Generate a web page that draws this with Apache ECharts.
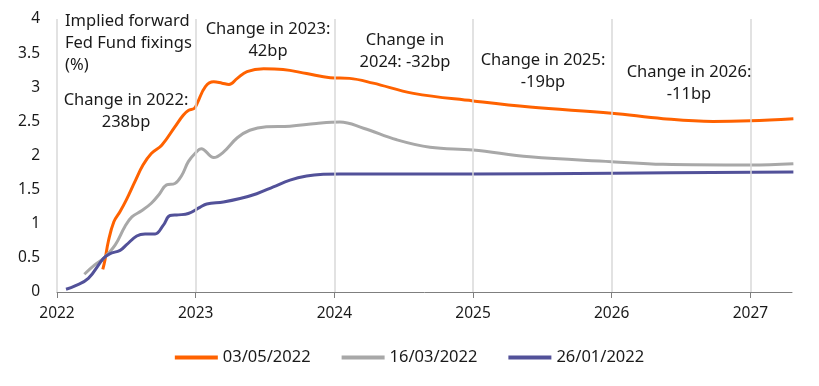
<!DOCTYPE html>
<html>
<head>
<meta charset="utf-8">
<script src="https://cdn.jsdelivr.net/npm/echarts@6/dist/echarts.min.js"></script>
<style>
html,body{margin:0;padding:0;background:#fff;}
#chart{width:819px;height:386px;}
</style>
</head>
<body>
<div id="chart"></div>
<script>
// Year ticks on x-axis
var yearTicks = [2022, 2023, 2024, 2025, 2026, 2027];
var yTicks = [0, 0.5, 1, 1.5, 2, 2.5, 3, 3.5, 4];
var seriesNames = ['03/05/2022', '16/03/2022', '26/01/2022'];

// 03/05/2022 (orange) : [year, %]
var may2022 = [
  [2022.33, 0.33], [2022.346, 0.47], [2022.37, 0.74], [2022.41, 1.03], [2022.455, 1.18],
  [2022.50, 1.35], [2022.56, 1.61], [2022.62, 1.86], [2022.68, 2.03], [2022.755, 2.15],
  [2022.85, 2.42], [2022.91, 2.59], [2022.947, 2.66], [2022.99, 2.69], [2023.01, 2.76],
  [2023.07, 3.01], [2023.13, 3.08], [2023.19, 3.06], [2023.24, 3.04], [2023.30, 3.13],
  [2023.37, 3.23], [2023.49, 3.27], [2023.63, 3.26], [2023.80, 3.20], [2023.97, 3.14],
  [2024.11, 3.13], [2024.28, 3.06], [2024.57, 2.91], [2025.00, 2.80], [2025.41, 2.71],
  [2026.00, 2.62], [2026.37, 2.54], [2026.73, 2.50], [2027.00, 2.51], [2027.31, 2.54]
];

// 16/03/2022 (grey)
var mar2022 = [
  [2022.197, 0.26], [2022.274, 0.40], [2022.334, 0.49], [2022.42, 0.69], [2022.49, 0.96],
  [2022.54, 1.10], [2022.61, 1.19], [2022.68, 1.30], [2022.74, 1.44], [2022.79, 1.57],
  [2022.85, 1.59], [2022.90, 1.71], [2022.947, 1.91], [2023.00, 2.04], [2023.04, 2.10],
  [2023.13, 1.97], [2023.20, 2.05], [2023.30, 2.26], [2023.39, 2.37], [2023.51, 2.42],
  [2023.68, 2.43], [2023.87, 2.47], [2024.04, 2.49], [2024.21, 2.40], [2024.45, 2.23],
  [2024.69, 2.12], [2025.00, 2.08], [2025.41, 1.98], [2026.00, 1.91], [2026.37, 1.87],
  [2027.00, 1.86], [2027.31, 1.88]
];

// 26/01/2022 (purple)
var jan2022 = [
  [2022.065, 0.04], [2022.13, 0.09], [2022.226, 0.20], [2022.334, 0.49], [2022.38, 0.56],
  [2022.455, 0.61], [2022.50, 0.69], [2022.575, 0.82], [2022.635, 0.85], [2022.707, 0.85],
  [2022.767, 0.98], [2022.815, 1.12], [2022.875, 1.13], [2022.947, 1.15], [2023.03, 1.24],
  [2023.08, 1.29], [2023.20, 1.32], [2023.32, 1.37], [2023.44, 1.44], [2023.56, 1.54],
  [2023.68, 1.64], [2023.80, 1.70], [2023.92, 1.725], [2024.04, 1.73], [2025.00, 1.73],
  [2026.00, 1.74], [2027.31, 1.76]
];

var annotations = [
  {text: 'Implied forward\nFed Fund fixings\n(%)', x: 65, y: 10, align: 'left'},
  {text: 'Change in 2022:\n238bp', x: 126, y: 89, align: 'center'},
  {text: 'Change in 2023:\n42bp', x: 268, y: 18, align: 'center'},
  {text: 'Change in\n2024: -32bp', x: 405, y: 29, align: 'center'},
  {text: 'Change in 2025:\n-19bp', x: 543, y: 49, align: 'center'},
  {text: 'Change in 2026:\n-11bp', x: 689, y: 61, align: 'center'}
];

var FONT = '"Noto Sans", sans-serif';
var chart = echarts.init(document.getElementById('chart'));

function lineSeries(name, data, color) {
  return {
    name: name, type: 'line', data: data, smooth: 0.4, symbol: 'none',
    lineStyle: {color: color, width: 3}, itemStyle: {color: color}
  };
}

var s0 = lineSeries(seriesNames[0], may2022, '#FF6200');
var s1 = lineSeries(seriesNames[1], mar2022, '#A8A8A8');
var s2 = lineSeries(seriesNames[2], jan2022, '#525199');
s2.markLine = {
  silent: true, symbol: 'none', label: {show: false},
  lineStyle: {color: '#D9D9D9', width: 1.5, type: 'solid'},
  data: yearTicks.map(function (v) { return {xAxis: v}; })
};

chart.setOption({
  backgroundColor: '#fff',
  animation: false,
  textStyle: {fontFamily: FONT},
  grid: {left: 57, right: 27, top: 19, bottom: 94, containLabel: false},
  legend: {
    bottom: 15, left: 'center', itemWidth: 43, itemHeight: 4, itemGap: 31,
    icon: 'rect',
    textStyle: {fontFamily: FONT, fontSize: 16.5, color: '#1a1a1a'},
    data: seriesNames
  },
  xAxis: {
    type: 'value', min: 2022, max: 2027.3, interval: 1,
    axisLine: {show: true, lineStyle: {color: '#7F7F7F', width: 1}},
    axisTick: {show: true, length: 6, lineStyle: {color: '#7F7F7F'}, customValues: yearTicks},
    axisLabel: {show: true, margin: 14, fontSize: 15.5, color: '#1a1a1a', fontFamily: FONT,
      customValues: yearTicks, formatter: function (v) { return String(v); }},
    splitLine: {show: false}
  },
  yAxis: {
    type: 'value', min: 0, max: 4, interval: 0.5,
    axisLine: {show: false}, axisTick: {show: false},
    axisLabel: {margin: 17, fontSize: 15.5, color: '#1a1a1a', fontFamily: FONT},
    splitLine: {show: false}
  },
  graphic: annotations.map(function (a) {
    return {
      type: 'text', left: a.align === 'left' ? a.x : undefined, x: a.align === 'center' ? a.x : undefined,
      y: a.y, z: 10,
      style: {text: a.text, fontFamily: FONT, fontSize: 16.5, lineHeight: 22, fill: '#1a1a1a',
        align: a.align}
    };
  }),
  series: [s0, s1, s2]
});
</script>
</body>
</html>
